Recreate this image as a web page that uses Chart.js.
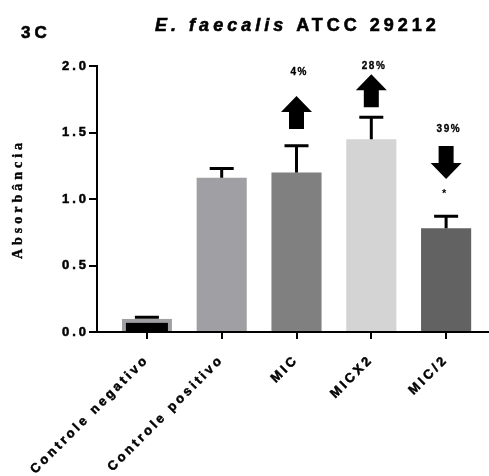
<!DOCTYPE html>
<html>
<head>
<meta charset="utf-8">
<script src="https://cdn.jsdelivr.net/npm/chart.js"></script>
<style>
  body { margin: 0; background: #fff; }
  #wrap { width: 489px; height: 476px; position: relative; }
</style>
</head>
<body>
<div id="wrap"><canvas id="c"></canvas></div>
<script>
// data
const categories = ["Controle negativo", "Controle positivo", "MIC", "MICX2", "MIC/2"];
const means = [0.10, 1.16, 1.20, 1.45, 0.78];
const errors = [0.01, 0.07, 0.20, 0.165, 0.09];
const changes = ["", "", "4%", "28%", "39%"];
const directions = [0, 0, 1, 1, -1];
const significance = ["", "", "", "", "*"];
const yTicks = [0, 0.5, 1.0, 1.5, 2.0];

const fills = ["#000000", "#a0a0a4", "#808080", "#d4d4d4", "#626262"];
const borders = ["#a0a0a4", "#a0a0a4", "#808080", "#d4d4d4", "#626262"];

// where the annotations sit (in data units)
const arrowBase = [null, null, 1.526, 1.69, 1.398];
const changeY = [null, null, 1.955, 2.0, 1.526];
const starY = 1.04;

function spaced(ctx, text, x, y, font, spacing, align, stroke) {
  ctx.save();
  ctx.font = font;
  ctx.letterSpacing = spacing + "px";
  ctx.fillStyle = "#000";
  ctx.strokeStyle = "#000";
  ctx.textBaseline = "middle";
  let w = ctx.measureText(text).width - spacing;
  let sx = align === "center" ? x - w / 2 : x;
  ctx.textAlign = "left";
  ctx.fillText(text, sx, y);
  if (stroke) {
    ctx.lineWidth = stroke;
    ctx.strokeText(text, sx, y);
  }
  ctx.restore();
  return w;
}

function drawArrow(ctx, cx, yBase, dir) {
  const shaftW = 15, headW = 31, shaftH = 17, headH = 16;
  ctx.save();
  ctx.fillStyle = "#000";
  ctx.beginPath();
  const s = -dir; // up means negative pixel direction
  ctx.moveTo(cx - shaftW / 2, yBase);
  ctx.lineTo(cx - shaftW / 2, yBase + s * shaftH);
  ctx.lineTo(cx - headW / 2, yBase + s * shaftH);
  ctx.lineTo(cx, yBase + s * (shaftH + headH));
  ctx.lineTo(cx + headW / 2, yBase + s * shaftH);
  ctx.lineTo(cx + shaftW / 2, yBase + s * shaftH);
  ctx.lineTo(cx + shaftW / 2, yBase);
  ctx.closePath();
  ctx.fill();
  ctx.restore();
}

const extras = {
  id: "extras",
  beforeDraw(chart) {
    chart.ctx.letterSpacing = "3px";
  },
  afterDatasetsDraw(chart) {
    const ctx = chart.ctx;
    const meta = chart.getDatasetMeta(0);
    const ys = chart.scales.y;
    ctx.save();
    ctx.strokeStyle = "#000";
    ctx.lineWidth = 3;
    meta.data.forEach((bar, i) => {
      const top = ys.getPixelForValue(means[i] + errors[i]);
      ctx.beginPath();
      ctx.moveTo(bar.x, bar.y);
      ctx.lineTo(bar.x, top);
      ctx.moveTo(bar.x - 12, top);
      ctx.lineTo(bar.x + 12, top);
      ctx.stroke();
    });
    ctx.restore();
  },
  afterDraw(chart) {
    const ctx = chart.ctx;
    const area = chart.chartArea;
    const ys = chart.scales.y;
    const meta = chart.getDatasetMeta(0);

    // panel letter
    spaced(ctx, "3C", 21, 33, "bold 17px 'Liberation Sans', Arial", 4, "left", 0.6);

    // title: italic species + bold strain
    ctx.save();
    const f1 = "italic bold 18px 'Liberation Sans', Arial";
    const f2 = "bold 18px 'Liberation Sans', Arial";
    ctx.letterSpacing = "4px";
    ctx.font = f1;
    const w1 = ctx.measureText("E. faecalis ").width;
    ctx.font = f2;
    const w2 = ctx.measureText("ATCC 29212").width - 4;
    ctx.restore();
    const tx = (area.left + area.right) / 2 + 3 - (w1 + w2) / 2;
    spaced(ctx, "E. faecalis ", tx, 26, f1, 4, "left", 0.6);
    spaced(ctx, "ATCC 29212", tx + w1, 26, f2, 4, "left", 0.6);

    // y axis title
    ctx.save();
    ctx.translate(18, (area.top + area.bottom) / 2 + 2);
    ctx.rotate(-Math.PI / 2);
    spaced(ctx, "Absorbância", 0, 0, "bold 14px 'Liberation Serif', 'Times New Roman', serif", 4, "center", 0.4);
    ctx.restore();

    // arrows, percentages, significance
    meta.data.forEach((bar, i) => {
      if (directions[i] !== 0) {
        drawArrow(ctx, bar.x, ys.getPixelForValue(arrowBase[i]), directions[i]);
      }
      if (changes[i]) {
        spaced(ctx, changes[i], bar.x + 2, ys.getPixelForValue(changeY[i]), "bold 10px 'Liberation Sans', Arial", 1.5, "center", 0.3);
      }
      if (significance[i]) {
        spaced(ctx, significance[i], bar.x - 2, ys.getPixelForValue(starY), "bold 11px 'Liberation Sans', Arial", 0, "center");
      }
    });
  }
};

const tickFont = { family: "'Liberation Sans', Arial", size: 13, weight: "bold" };

new Chart(document.getElementById("c"), {
  type: "bar",
  data: {
    datasets: [{
      data: means.map((v, i) => ({ x: i, y: v })),
      backgroundColor: fills,
      borderColor: borders,
      borderWidth: [4, 0, 0, 0, 0],
      borderSkipped: "start",
      categoryPercentage: 1,
      barPercentage: 0.67
    }]
  },
  options: {
    responsive: true,
    maintainAspectRatio: false,
    animation: false,
    layout: { padding: { top: 66, right: 1, left: 0, bottom: 0 } },
    plugins: { legend: { display: false }, tooltip: { enabled: false } },
    scales: {
      x: {
        type: "linear",
        min: -0.667,
        max: 4.56,
        offset: false,
        afterBuildTicks: s => { s.ticks = categories.map((c, i) => ({ value: i })); },
        afterFit: s => { s.height = 144; },
        ticks: {
          autoSkip: false,
          maxRotation: 45,
          minRotation: 45,
          padding: 13,
          color: "#000",
          textStrokeColor: "#000",
          textStrokeWidth: 0.5,
          font: tickFont,
          callback: v => categories[v]
        },
        grid: { offset: false, drawOnChartArea: false, drawTicks: true, tickLength: 7, color: "#000", lineWidth: 2 },
        border: { display: true, color: "#000", width: 2 }
      },
      y: {
        min: 0,
        max: 2,
        afterBuildTicks: s => { s.ticks = yTicks.map(v => ({ value: v })); },
        afterFit: s => { s.width = 97; },
        ticks: {
          padding: 0,
          color: "#000",
          textStrokeColor: "#000",
          textStrokeWidth: 0.5,
          font: tickFont,
          callback: v => v.toFixed(1)
        },
        grid: { drawOnChartArea: false, drawTicks: true, tickLength: 8, color: "#000", lineWidth: 2 },
        border: { display: true, color: "#000", width: 2 }
      }
    }
  },
  plugins: [extras]
});
</script>
</body>
</html>
